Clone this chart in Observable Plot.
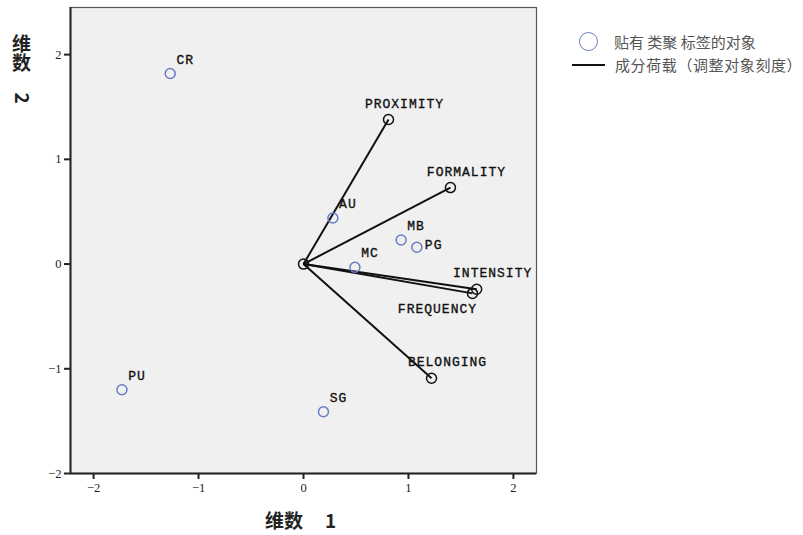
<!DOCTYPE html>
<html><head><meta charset="utf-8">
<script src="https://cdn.jsdelivr.net/npm/d3@7"></script>
<script src="https://cdn.jsdelivr.net/npm/@observablehq/plot@0.6"></script>
<style>
body{margin:0;background:#fff;}
#wrap{position:relative;width:803px;height:535px;}
.leg{position:absolute;font-family:"Noto Sans CJK SC",sans-serif;font-size:15px;color:#555;white-space:nowrap;line-height:20px;}
.ylab{position:absolute;left:10px;top:34px;font-family:"Noto Sans CJK SC",sans-serif;font-weight:bold;font-size:19px;writing-mode:vertical-rl;color:#222;line-height:22px;}
.xlab{position:absolute;left:265px;top:506px;font-family:"Noto Sans CJK SC",sans-serif;font-weight:bold;font-size:19px;color:#222;}
</style></head>
<body><div id="wrap"></div>
<script>
const objects = ["CR","PU","SG","AU","MC","MB","PG"];
const objX = [-1.27,-1.73,0.19,0.28,0.49,0.93,1.08];
const objY = [1.82,-1.20,-1.41,0.44,-0.03,0.23,0.16];
const variables = ["PROXIMITY","FORMALITY","INTENSITY","FREQUENCY","BELONGING"];
const varX = [0.81,1.40,1.65,1.61,1.22];
const varY = [1.38,0.73,-0.24,-0.28,-1.09];
const xTicks = [-2,-1,0,1,2];
const yTicks = [-2,-1,0,1,2];
const legendLabels = [["贴有","类聚","标签的对象"],"成分荷载（调整对象刻度）"];
const xTitle = ["维数","1"], yTitle = ["维数","2"];

const obj = objects.map((n,i)=>({name:n,x:objX[i],y:objY[i]}));
const vars = variables.map((n,i)=>({name:n,x:varX[i],y:varY[i]}));
const labFont = {fontFamily:"Liberation Mono, monospace", fontSize:13, fill:"#111", stroke:"#111", strokeWidth:0.35};
const fmt = d => d < 0 ? "\u2212" + Math.abs(d) : String(d);

const chart = Plot.plot({
  width:803, height:535,
  marginLeft:70, marginTop:7, marginRight:267, marginBottom:62,
  x:{domain:[-2.22,2.22], label:null},
  y:{domain:[-2,2.45], label:null},
  style:{fontFamily:"Liberation Serif, serif", fontSize:"12.5px", color:"#222", background:"transparent"},
  marks:[
    Plot.frame({fill:"#f0f0f0", stroke:"#555", strokeWidth:1.2}),
    Plot.ruleX([-2.22],{stroke:"#222", strokeWidth:2}),
    Plot.ruleY([-2],{stroke:"#222", strokeWidth:2}),
    Plot.axisX({ticks:xTicks, tickFormat:fmt, tickSize:6, tickPadding:4, strokeWidth:2, label:null}),
    Plot.axisY({ticks:yTicks, tickFormat:fmt, tickSize:6, tickPadding:3, strokeWidth:2, label:null}),
    Plot.link(vars,{x1:0,y1:0,x2:"x",y2:"y",stroke:"#111",strokeWidth:2}),
    Plot.dot([{x:0,y:0}],{x:"x",y:"y",r:5,stroke:"#111",strokeWidth:1.5}),
    Plot.dot(vars,{x:"x",y:"y",r:5,stroke:"#111",strokeWidth:1.5}),
    Plot.dot(obj,{x:"x",y:"y",r:5,stroke:"#6a7cc6",strokeWidth:1.5}),
    Plot.text(vars.filter(d=>d.name!=="FREQUENCY"),{x:"x",y:"y",text:"name",dx:16,dy:-16,...labFont}),
    Plot.text(vars.filter(d=>d.name==="FREQUENCY"),{x:"x",y:"y",text:"name",dx:-35,dy:15,...labFont}),
    Plot.text(obj.filter(d=>d.name!=="PG"),{x:"x",y:"y",text:"name",dx:15,dy:-14,...labFont}),
    Plot.text(obj.filter(d=>d.name==="PG"),{x:"x",y:"y",text:"name",dx:8,dy:-2,textAnchor:"start",...labFont})
  ]
});
chart.querySelectorAll('[aria-label="text"] text').forEach(t=>t.style.letterSpacing="1px");
d3.select(chart).append("text")
  .attr("transform","translate(15,98) rotate(90)")
  .attr("text-anchor","middle")
  .attr("font-family","Noto Sans CJK SC, sans-serif")
  .attr("font-weight","bold").attr("font-size",19).attr("fill","#222")
  .text(yTitle[1]);
const wrap = document.getElementById("wrap");
wrap.appendChild(chart);

const yl = document.createElement("div"); yl.className="ylab"; yl.textContent = yTitle[0]; wrap.appendChild(yl);
const xl = document.createElement("div"); xl.className="xlab";
xl.innerHTML = xTitle[0] + '<span style="margin-left:22px">'+xTitle[1]+'</span>';
wrap.appendChild(xl);

const l1 = document.createElement("div"); l1.className="leg"; l1.style.left="579px"; l1.style.top="30px";
l1.innerHTML = '<span style="display:inline-block;width:19px;height:19px;border:1.5px solid #6a7cc6;border-radius:50%;box-sizing:border-box;vertical-align:middle;margin-right:16px"></span><span style="vertical-align:middle">'+legendLabels[0].join(" ")+'</span>';
wrap.appendChild(l1);
const l2 = document.createElement("div"); l2.className="leg"; l2.style.left="572px"; l2.style.top="53px";
l2.innerHTML = '<span style="display:inline-block;width:33px;height:0;border-top:2px solid #111;vertical-align:middle;margin-right:10px"></span><span style="vertical-align:middle;letter-spacing:0.6px">'+legendLabels[1]+'</span>';
wrap.appendChild(l2);
</script></body></html>
